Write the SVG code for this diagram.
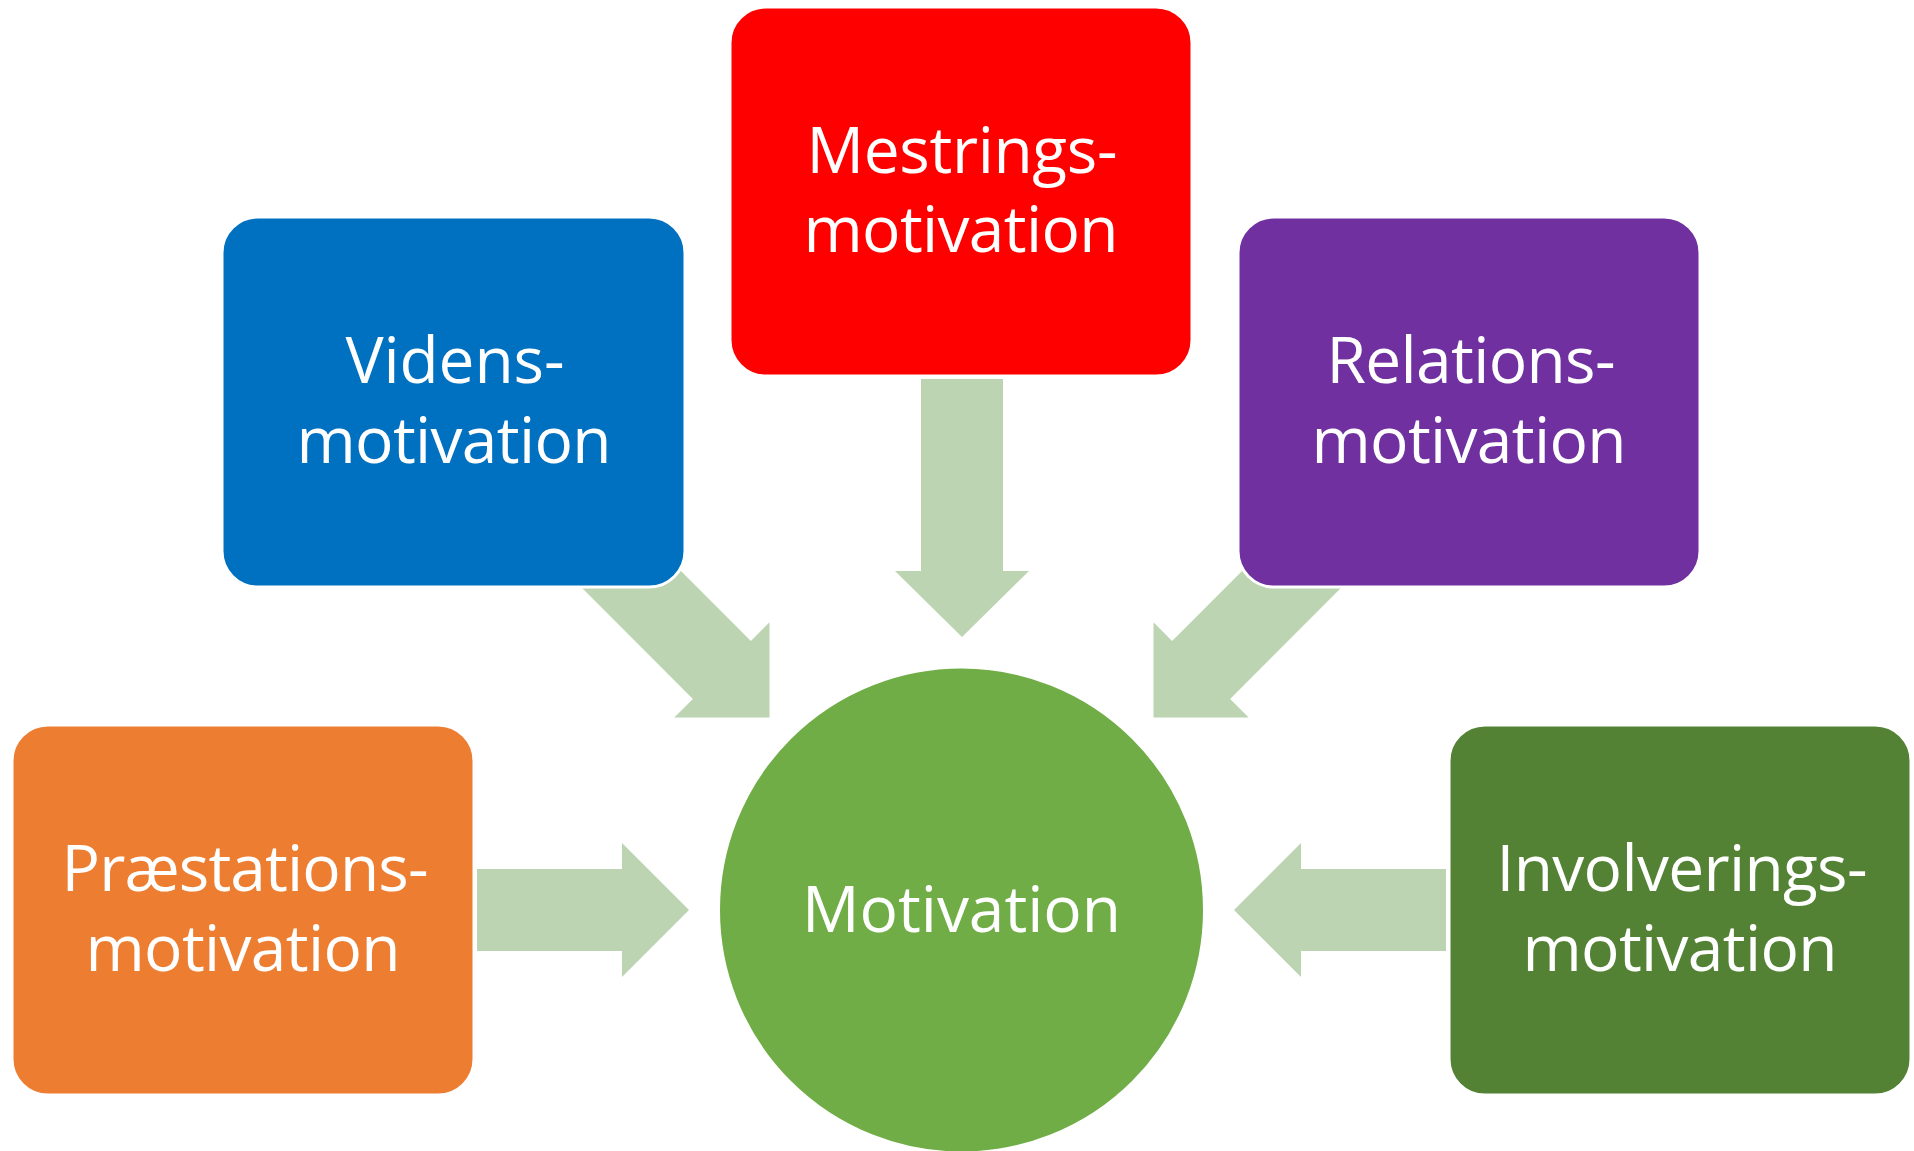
<svg xmlns="http://www.w3.org/2000/svg" width="1914" height="1151" viewBox="0 0 1914 1151">
<style>
.box{stroke:#FFFFFF;stroke-width:3}
.arrow{fill:#BCD4B2}
.lbl{font-family:"Open Sans","Noto Sans","Liberation Sans",sans-serif;font-size:64px;fill:#FFFFFF;text-anchor:middle}
</style>
<rect width="1914" height="1151" fill="#FFFFFF"/>
<g id="connectors">
  <polygon class="arrow" points="921,379 1003,379 1003,571 1029,571 962,637 895,571 921,571"/>
  <polygon class="arrow" points="477,869 622,869 622,843 689,910 622,977 622,951 477,951"/>
  <polygon class="arrow" points="1446,869 1301,869 1301,843 1234,910 1301,977 1301,951 1446,951"/>
  <polygon class="arrow" points="623.6,513.6 750.9,640.9 769.5,622.3 769.5,717.5 674.3,717.5 692.9,698.9 565.6,571.6"/>
  <polygon class="arrow" points="1299.4,513.6 1172.1,640.9 1153.5,622.3 1153.5,717.5 1248.7,717.5 1230.1,698.9 1357.4,571.6"/>
</g>
<g id="node-mestrings">
  <rect class="box" x="730" y="7" width="462" height="369" rx="36" fill="#FF0000"/>
  <text class="lbl" x="962" y="173" textLength="311">Mestrings-</text>
  <text class="lbl" x="961" y="252" textLength="315">motivation</text>
</g>
<g id="node-videns">
  <rect class="box" x="222" y="217" width="463" height="370" rx="36" fill="#0070C0"/>
  <text class="lbl" x="455" y="383" textLength="219">Videns-</text>
  <text class="lbl" x="454" y="463" textLength="315">motivation</text>
</g>
<g id="node-relations">
  <rect class="box" x="1238" y="217" width="462" height="370" rx="36" fill="#7030A0"/>
  <text class="lbl" x="1471" y="383" textLength="289">Relations-</text>
  <text class="lbl" x="1469" y="463" textLength="315">motivation</text>
</g>
<g id="node-praestations">
  <rect class="box" x="12" y="725" width="462" height="370" rx="36" fill="#ED7D31"/>
  <text class="lbl" x="245" y="891" textLength="367">Præstations-</text>
  <text class="lbl" x="243" y="971" textLength="315">motivation</text>
</g>
<g id="node-involverings">
  <rect class="box" x="1449" y="725" width="462" height="370" rx="36" fill="#548235"/>
  <text class="lbl" x="1682" y="891" textLength="371">Involverings-</text>
  <text class="lbl" x="1680" y="971" textLength="315">motivation</text>
</g>
<g id="node-motivation">
  <circle class="box" cx="961.5" cy="910" r="243" fill="#70AD47"/>
  <text class="lbl" x="961.5" y="932" textLength="319">Motivation</text>
</g>
</svg>
